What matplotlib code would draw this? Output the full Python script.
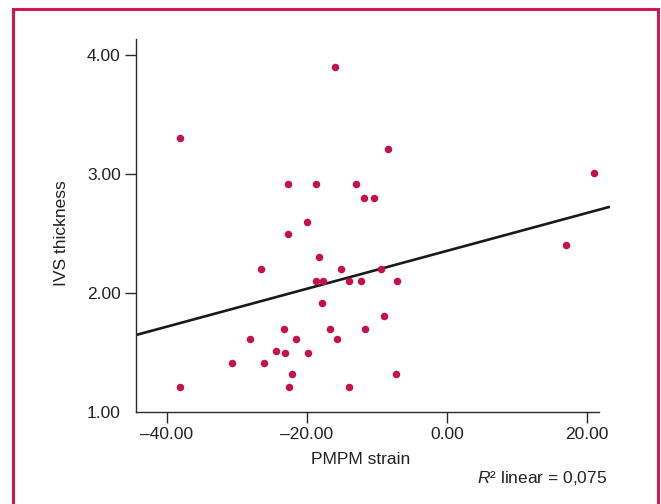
import matplotlib
matplotlib.use("Agg")
import matplotlib.pyplot as plt
from matplotlib.patches import Rectangle

plt.rcParams['font.family'] = ['Liberation Sans', 'DejaVu Sans']
plt.rcParams['mathtext.fontset'] = 'custom'
plt.rcParams['mathtext.it'] = 'Liberation Sans:italic'

# data
strain = [-15.96, -38.1, -22.71, -18.76, -13.0, -11.86, -10.47, -20.04, -22.71,
          -18.24, -26.61, -15.19, -9.39, -18.76, -17.71, -14.07, -12.24, -7.14,
          -17.9, -23.29, -16.67, -11.71, -28.1, -21.53, -15.71, -24.43, -23.14,
          -19.9, -30.76, -26.1, -22.19, -7.33, -38.1, -22.57, -14.07, -8.39,
          17.0, 21.0, -8.96]
ivs = [3.90, 3.30, 2.92, 2.92, 2.92, 2.80, 2.80, 2.60, 2.50,
       2.30, 2.20, 2.20, 2.20, 2.10, 2.10, 2.10, 2.10, 2.10,
       1.92, 1.70, 1.70, 1.70, 1.61, 1.61, 1.61, 1.51, 1.50,
       1.50, 1.41, 1.41, 1.32, 1.32, 1.21, 1.21, 1.21, 3.21,
       2.40, 3.01, 1.81]

# fit line end points
fit_x = [-44.43, 23.29]
fit_y = [1.647, 2.725]

xticks = [-40, -20, 0, 20]
xticklabels = ['\u201340.00', '\u201320.00', '0.00', '20.00']
yticks = [1, 2, 3, 4]
yticklabels = ['1.00', '2.00', '3.00', '4.00']

W, H = 661, 504
fig = plt.figure(figsize=(W / 100, H / 100), dpi=100)
ax = fig.add_axes([136 / W, 92 / H, 474 / W, (464.7 - 92) / H])

dot = '#c5104a'
txt = '#222222'
ax.plot(strain, ivs, 'o', ms=5.4, mfc=dot, mec='none', zorder=3)
ax.plot(fit_x, fit_y, color='#1a1a1a', lw=1.9, solid_capstyle='butt', zorder=2)

ax.set_xlim(-44.43, 23.29)
ax.set_ylim(1.0, 4.132)

for s in ['top', 'right']:
    ax.spines[s].set_visible(False)
for s in ['left', 'bottom']:
    ax.spines[s].set_color('#2a2a2a')
    ax.spines[s].set_linewidth(1.0)
ax.spines['bottom'].set_bounds(-44.43, 21.76)

ax.set_xticks(xticks)
ax.set_xticklabels(xticklabels)
ax.set_yticks(yticks)
ax.set_yticklabels(yticklabels)
ax.tick_params(axis='both', direction='out', length=8, width=1.0,
               color='#2a2a2a', labelsize=12.5, labelcolor=txt)
ax.tick_params(axis='y', pad=3)
ax.tick_params(axis='x', pad=3)
ax.yaxis.get_major_ticks()[0].tick1line.set_visible(False)

fig.text(61.5 / W, 1 - 233 / H, 'IVS thickness', rotation=90, ha='center',
         va='center', fontsize=12.5, color=txt)
fig.text(361 / W, 1 - 464 / H, 'PMPM strain', ha='center', va='baseline',
         fontsize=12.5, color=txt)
fig.text(607 / W, 1 - 483 / H, '$\\mathit{R}$\u00b2 linear = 0,075',
         ha='right', va='baseline', fontsize=12.5, color=txt)

# red frame round the figure
frame = Rectangle((13.5 / W, -0.1), (657.5 - 13.5) / W, (504 - 9.2) / H + 0.1,
                  transform=fig.transFigure, fill=False, edgecolor='#cf1a4e',
                  lw=2.2, clip_on=False)
fig.patches.append(frame)

fig.savefig('out.png', dpi=100)
